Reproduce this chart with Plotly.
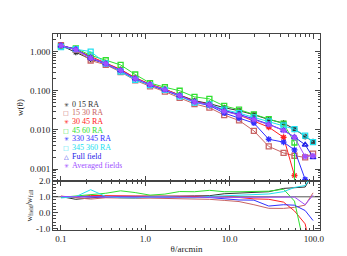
import plotly.graph_objects as go
import numpy as np

# angular bins (arcmin)
theta = [0.1, 0.15, 0.225, 0.34, 0.51, 0.76, 1.14, 1.71, 2.56, 3.84, 5.77, 8.65,
         12.97, 19.46, 29.2, 43.8, 59, 79, 98]

w_0_15 = [1.42, 0.96, 0.64, 0.50, 0.34, 0.21, 0.145, 0.108, 0.078, 0.056, 0.047, 0.037,
          0.031, 0.0245, 0.0185, 0.015, 0.0105, 0.0068, 0.0050]
w_15_30 = [1.45, 1.10, 0.59, 0.46, 0.30, 0.185, 0.13, 0.095, 0.066, 0.046, 0.037, 0.024,
           0.0175, 0.0095, 0.0038, 0.0026, 0.0022, 0.0020, 0.0025]
w_30_45 = [1.45, 1.12, 0.75, 0.52, 0.35, 0.215, 0.148, 0.11, 0.078, 0.054, 0.045, 0.031,
           0.024, 0.0165, 0.0118, 0.0065, 0.00069, -0.003, -0.006]
w_45_60 = [1.35, 1.20, 0.80, 0.60, 0.455, 0.26, 0.157, 0.123, 0.10, 0.07, 0.062, 0.041,
           0.033, 0.025, 0.019, 0.0145, 0.0048, -0.01, None]
w_330_345 = [1.43, 1.15, 0.68, 0.48, 0.32, 0.20, 0.14, 0.104, 0.074, 0.051, 0.042, 0.027,
             0.020, 0.015, 0.0058, 0.0049, 0.0031, 0.00055, -0.001]
w_345_360 = [1.30, 1.15, 1.00, 0.50, 0.31, 0.19, 0.14, 0.105, 0.072, 0.050, 0.045, 0.033,
             0.027, 0.021, 0.0165, 0.013, 0.0105, 0.0072, 0.0049]
w_full = [1.40, 1.14, 0.69, 0.49, 0.33, 0.205, 0.142, 0.105, 0.075, 0.053, 0.044, 0.031,
          0.025, 0.019, 0.014, 0.0098, 0.0066, 0.0042, 0.0020]
w_avg = [1.42, 1.12, 0.68, 0.49, 0.33, 0.205, 0.143, 0.106, 0.075, 0.052, 0.044, 0.030,
         0.024, 0.0185, 0.0137, 0.0097, 0.0065, 0.0021, 0.0022]

labels = ["0 15 RA", "15 30 RA", "30 45 RA", "45 60 RA", "330 345 RA", "345 360 RA",
          "Full field", "Averaged fields"]
colors = ["#303030", "#c86464", "#ff2020", "#30e030", "#3030ff", "#20e0f0", "#2020e8", "#a050ff"]
symbols = ["asterisk-open", "square-open", "asterisk-open", "square-open", "asterisk-open",
           "square-open", "triangle-up-open", "asterisk-open"]
glyphs = ["\u2733", "\u25a1", "\u2733", "\u25a1", "\u2733", "\u25a1", "\u25b3", "\u2733"]
series = [w_0_15, w_15_30, w_30_45, w_45_60, w_330_345, w_345_360, w_full, w_avg]

FONT = "Liberation Serif"
AX = "#444444"

fig = go.Figure()
for lab, col, sym, w in zip(labels, colors, symbols, series):
    fig.add_trace(go.Scatter(
        x=theta, y=w, mode="lines+markers",
        name=lab, line=dict(color=col, width=1),
        marker=dict(symbol=sym, size=5, color=col, line=dict(color=col, width=1.3)),
        xaxis="x", yaxis="y", showlegend=False))

# ratio panel: each field relative to the full field
for lab, col, w in zip(labels, colors, series):
    if lab == "Full field":
        continue
    ratio = [(a / f) if (a is not None) else None for a, f in zip(w, w_full)]
    fig.add_trace(go.Scatter(x=theta, y=ratio, mode="lines", name=lab,
                             line=dict(color=col, width=1), xaxis="x2", yaxis="y2",
                             showlegend=False))

xr = [np.log10(0.0804), np.log10(118.5)]
xminor = [m * 10.0 ** e for e in range(-2, 3) for m in range(2, 10)]
yminor = [m * 10.0 ** e for e in range(-4, 1) for m in range(2, 10)]

common_x = dict(type="log", range=xr, showline=True, linecolor=AX, linewidth=1,
                mirror="ticks", ticks="inside", ticklen=5, tickcolor=AX,
                tickvals=[0.1, 1, 10, 100], ticktext=["0.1", "1.0", "10.0", "100.0"],
                minor=dict(ticks="inside", ticklen=2.5, tickcolor=AX, tickvals=xminor),
                showgrid=False, zeroline=False,
                tickfont=dict(family=FONT, size=9, color="#222"))

fig.update_layout(
    width=347, height=256, margin=dict(l=34, r=35, t=26, b=26),
    paper_bgcolor="white", plot_bgcolor="white",
    font=dict(family=FONT, size=9, color="#222"),
    xaxis=dict(common_x, anchor="y", showticklabels=False),
    xaxis2=dict(common_x, anchor="y2", matches="x",
                title=dict(text="\u03b8/arcmin", font=dict(family=FONT, size=9), standoff=2)),
    yaxis=dict(type="log", domain=[0.25, 1], range=[np.log10(0.0005), np.log10(2.8)],
               showline=True, linecolor=AX, linewidth=1, mirror="ticks",
               ticks="inside", ticklen=5, tickcolor=AX,
               tickvals=[0.001, 0.01, 0.1, 1], ticktext=["0.001", "0.010", "0.100", "1.000"],
               minor=dict(ticks="inside", ticklen=2.5, tickcolor=AX, tickvals=yminor),
               showgrid=False, zeroline=False,
               tickfont=dict(family=FONT, size=9, color="#222"),
               title=dict(text="w(\u03b8)", font=dict(family=FONT, size=9), standoff=4)),
    yaxis2=dict(domain=[0, 0.25], range=[-1.1, 2.0], showline=True, linecolor=AX,
                linewidth=1, mirror="ticks", ticks="inside", ticklen=5, tickcolor=AX,
                tickvals=[-1, 0, 1, 2], ticktext=["-1.0", "0.0", "1.0", "2.0"],
                minor=dict(ticks="inside", ticklen=2.5, tickcolor=AX, dtick=0.2),
                showgrid=False, zeroline=False,
                tickfont=dict(family=FONT, size=9, color="#222"),
                title=dict(text="w<sub>field</sub>/w<sub>full</sub>",
                           font=dict(family=FONT, size=8), standoff=2)),
)

# reference line at ratio 1
fig.add_shape(type="line", xref="x2 domain", yref="y2", x0=0, x1=1, y0=1, y1=1,
              line=dict(color="#555555", width=1), layer="below")

# legend drawn as text
PL, PT, PW, PH = 34, 26, 278, 204
for i, (lab, col, g) in enumerate(zip(labels, colors, glyphs)):
    ypx = 99 + 9.05 * i
    yp = (PT + PH - ypx) / PH
    fig.add_annotation(x=(47.7 - PL) / PW, y=yp, xref="paper", yref="paper",
                       text=g, showarrow=False, xanchor="center", yanchor="middle",
                       borderpad=0, height=9,
                       font=dict(family="DejaVu Sans", size=6, color=col))
    fig.add_annotation(x=(53 - PL) / PW, y=yp, xref="paper", yref="paper",
                       text=lab, showarrow=False, xanchor="left", yanchor="middle",
                       borderpad=0, height=9,
                       font=dict(family=FONT, size=8, color=col))

fig.write_html("out.html")
